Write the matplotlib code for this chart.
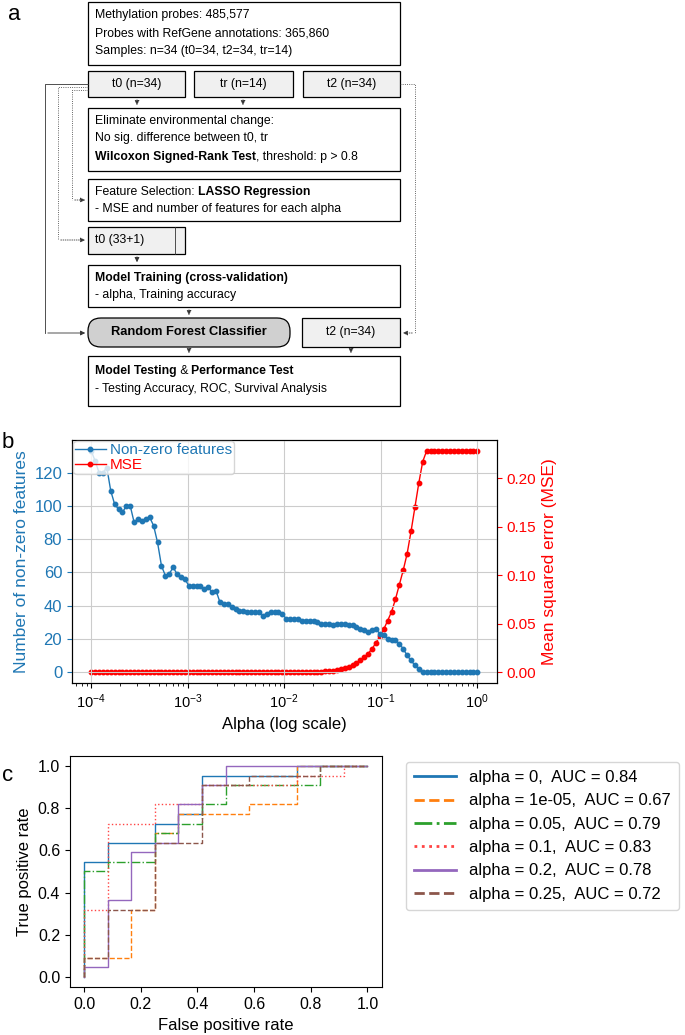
import numpy as np
import matplotlib
matplotlib.use("Agg")
import matplotlib.pyplot as plt
from matplotlib.patches import FancyBboxPatch, Rectangle

W, H = 685, 1035
fig = plt.figure(figsize=(6.85, 10.35), dpi=100)
FONT = "Liberation Sans"
plt.rcParams["font.family"] = FONT

# ---------------- data ----------------
alpha = np.logspace(-4, 0, 100)
features = [133,127,120,120,123,109,101,98,96,100,100,90,92,91,92,93,88,78,64,58,
            59,63,59,57,56,52,52,52,52,50,51,48,49,42,41,41,39,38,37,37,
            36,36,36,36,34,35,36,36,36,35,32,32,32,32,31,31,31,31,30,29,
            29,29,28,29,29,29,28,28,27,26,25,24,25,26,23,22,20,19,19,17,
            14,10,7,4,2,0,0,0,0,0,0,0,0,0,0,0,0,0,0,0]
mse = ([0.0]*55 + [0.0005]*5 +
       [0.001,0.001,0.0015,0.002,0.003,0.004,0.005,0.007,0.009,0.012,0.015,0.019,0.024,
        0.030,0.037,0.044,0.053,0.062,0.075,0.090,0.105,0.122,0.145,0.170,0.195,0.217] +
       [0.228]*14)

roc_labels = ["alpha = 0,  AUC = 0.84", "alpha = 1e-05,  AUC = 0.67", "alpha = 0.05,  AUC = 0.79",
              "alpha = 0.1,  AUC = 0.83", "alpha = 0.2,  AUC = 0.78", "alpha = 0.25,  AUC = 0.72"]
roc_fpr = [
    [0,0,0.083,0.083,0.25,0.25,0.333,0.333,0.417,0.417,0.75,0.75,1],
    [0,0,0.167,0.167,0.25,0.25,0.333,0.333,0.583,0.583,0.75,0.75,1],
    [0,0,0.083,0.083,0.25,0.25,0.333,0.333,0.417,0.417,0.5,0.5,0.833,0.833,1],
    [0,0,0.083,0.083,0.25,0.25,0.417,0.417,0.75,0.75,0.917,0.917,1],
    [0,0,0.083,0.083,0.167,0.167,0.25,0.25,0.333,0.333,0.417,0.417,0.5,0.5,1],
    [0,0,0.083,0.083,0.25,0.25,0.417,0.417,0.583,0.583,0.833,0.833,1],
]
roc_tpr = [
    [0,0.545,0.545,0.636,0.636,0.727,0.727,0.773,0.773,0.955,0.955,1,1],
    [0,0.091,0.091,0.318,0.318,0.682,0.682,0.773,0.773,0.818,0.818,1,1],
    [0,0.5,0.5,0.545,0.545,0.682,0.682,0.727,0.727,0.818,0.818,0.909,0.909,1,1],
    [0,0.318,0.318,0.727,0.727,0.818,0.818,0.909,0.909,0.955,0.955,1,1],
    [0,0.045,0.045,0.364,0.364,0.591,0.591,0.636,0.636,0.818,0.818,0.909,0.909,1,1],
    [0,0.091,0.091,0.318,0.318,0.636,0.636,0.909,0.909,0.955,0.955,1,1],
]
roc_colors = ["#1f77b4", "#ff7f0e", "#2ca02c", "#ff4444", "#9467bd", "#8c564b"]
roc_styles = ["-", "--", "-.", ":", "-", "--"]

# ---------------- panel a: flowchart ----------------
fa = fig.add_axes([0, 0, 1, 1])
fa.set_xlim(0, W); fa.set_ylim(H, 0); fa.axis("off")
fs = 8.8

def box(x0, y0, x1, y1, fc="white", rounded=False):
    if rounded:
        p = FancyBboxPatch((x0, y0), x1-x0, y1-y0, boxstyle="round,pad=0,rounding_size=13",
                           fc=fc, ec="black", lw=0.9)
    else:
        p = Rectangle((x0, y0), x1-x0, y1-y0, fc=fc, ec="black", lw=0.9)
    fa.add_patch(p)

fig.canvas.draw()
rend = fig.canvas.get_renderer()

def mixed(x, y, parts):
    for t, b in parts:
        tx = fa.text(x, y, t, fontsize=fs, fontweight="bold" if b else "normal", va="center", ha="left")
        bb = tx.get_window_extent(renderer=rend)
        x += bb.width * W / fig.bbox.width

def arrow(x0, y0, x1, y1, ls="-"):
    fa.annotate("", xy=(x1, y1), xytext=(x0, y0),
                arrowprops=dict(arrowstyle="-|>", lw=0.6, color="#333333", ls=ls, mutation_scale=7))

def line(xs, ys, ls="-"):
    fa.plot(xs, ys, color="#333333", lw=0.6, ls=ls)

fa.text(8, 15, "a", fontsize=16, va="center")
box(88, 2, 400, 65)
for i, t in enumerate(["Methylation probes: 485,577", "Probes with RefGene annotations: 365,860",
                       "Samples: n=34 (t0=34, t2=34, tr=14)"]):
    fa.text(95, 15 + i*18, t, fontsize=fs, va="center")
for x0, x1, t in [(88, 185, "t0 (n=34)"), (194, 293, "tr (n=14)"), (303, 400, "t2 (n=34)")]:
    box(x0, 71, x1, 97, fc="#f0f0f0")
    fa.text((x0+x1)/2, 84, t, fontsize=fs, ha="center", va="center")
box(88, 108, 400, 171)
fa.text(95, 121, "Eliminate environmental change:", fontsize=fs, va="center")
fa.text(95, 138, "No sig. difference between t0, tr", fontsize=fs, va="center")
mixed(95, 157, [("Wilcoxon Signed-Rank Test", True), (", threshold: p > 0.8", False)])
box(88, 179, 400, 221)
mixed(95, 192, [("Feature Selection: ", False), ("LASSO Regression", True)])
fa.text(95, 209, "- MSE and number of features for each alpha", fontsize=fs, va="center")
box(88, 227, 185, 254, fc="#f0f0f0")
line([175, 175], [227, 254])
fa.text(95, 240, "t0 (33+1)", fontsize=fs, va="center")
box(88, 265, 400, 307)
fa.text(95, 278, "Model Training (cross-validation)", fontsize=fs, va="center", fontweight="bold")
fa.text(95, 295, "- alpha, Training accuracy", fontsize=fs, va="center")
box(88, 318, 290, 347, fc="#d0d0d0", rounded=True)
fa.text(189, 332, "Random Forest Classifier", fontsize=fs+0.5, ha="center", va="center", fontweight="bold")
box(302, 318, 400, 347, fc="#f0f0f0")
fa.text(351, 332, "t2 (n=34)", fontsize=fs, ha="center", va="center")
box(88, 356, 400, 406)
mixed(95, 371, [("Model Testing", True), (" & ", False), ("Performance Test", True)])
fa.text(95, 389, "- Testing Accuracy, ROC, Survival Analysis", fontsize=fs, va="center")
arrow(137, 97, 137, 108, ls=":"); arrow(243, 97, 243, 108, ls=":")
arrow(137, 254, 137, 265); arrow(189, 307, 189, 318, ls=":")
arrow(189, 347, 189, 356, ls=":"); arrow(351, 347, 351, 356, ls=":")
line([88, 45, 45], [84, 84, 333]); arrow(45, 333, 88, 333)
line([88, 58, 58], [87, 87, 240], ls=":"); arrow(58, 240, 88, 240, ls=":")
line([88, 72, 72], [90, 90, 200], ls=":"); arrow(72, 200, 88, 200, ls=":")
line([400, 415, 415], [84, 84, 333], ls=":"); arrow(415, 333, 400, 333, ls=":")

# ---------------- panel b ----------------
fig.text(0.003, 0.572, "b", fontsize=16, va="center")
axb = fig.add_axes([0.105, 0.340, 0.62, 0.235])
blue, red = "#1f77b4", "red"
l1, = axb.plot(alpha, features, "-o", color=blue, ms=3.2, lw=1, label="Non-zero features")
axb.set_xscale("log")
axb.set_ylim(-6.65, 139.65)
axb.set_yticks([0, 20, 40, 60, 80, 100, 120])
axb.set_ylabel("Number of non-zero features", color=blue, fontsize=12.5)
axb.tick_params(axis="y", colors=blue, labelsize=12)
axb.tick_params(axis="x", labelsize=10.5)
axb.set_xlabel("Alpha (log scale)", fontsize=12)
axb.grid(True, color="#cccccc", lw=0.8)
axr = axb.twinx()
l2, = axr.plot(alpha, mse, "-o", color=red, ms=3.2, lw=1, label="MSE")
axr.set_ylim(-0.0114, 0.2394)
axr.set_yticks([0, 0.05, 0.10, 0.15, 0.20])
axr.set_yticklabels(["0.00", "0.05", "0.10", "0.15", "0.20"])
axr.tick_params(axis="y", colors=red, labelsize=11)
axr.set_ylabel("Mean squared error (MSE)", color=red, fontsize=12.5)
leg = axb.legend([l1, l2], ["Non-zero features", "MSE"], loc="upper left", fontsize=11,
                 borderpad=0.1, handletextpad=0.3, borderaxespad=0.1, framealpha=0.8,
                 labelspacing=0.1)
for t, c in zip(leg.get_texts(), [blue, red]):
    t.set_color(c)
axb.set_zorder(axr.get_zorder() + 1); axb.patch.set_visible(False)

# ---------------- panel c ----------------
fig.text(0.003, 0.251, "c", fontsize=16, va="center")
axc = fig.add_axes([0.102, 0.046, 0.455, 0.224])
hs = []
for f, t, c, s, lab in zip(roc_fpr, roc_tpr, roc_colors, roc_styles, roc_labels):
    h, = axc.plot(f, t, color=c, ls=s, lw=1, label=lab)
    hs.append(h)
axc.set_xlim(-0.05, 1.05); axc.set_ylim(-0.05, 1.05)
axc.set_xticks(np.arange(0, 1.01, 0.2)); axc.set_yticks(np.arange(0, 1.01, 0.2))
axc.tick_params(labelsize=11.5)
axc.set_xlabel("False positive rate", fontsize=12)
axc.set_ylabel("True positive rate", fontsize=12)
lg = fig.legend(hs, roc_labels, loc="upper left", bbox_to_anchor=(0.58, 0.272), fontsize=12,
                handlelength=2.5, labelspacing=0.5, borderpad=0.5)
for h in lg.get_lines():
    h.set_linewidth(2)
fig.savefig("out.png", dpi=100)
